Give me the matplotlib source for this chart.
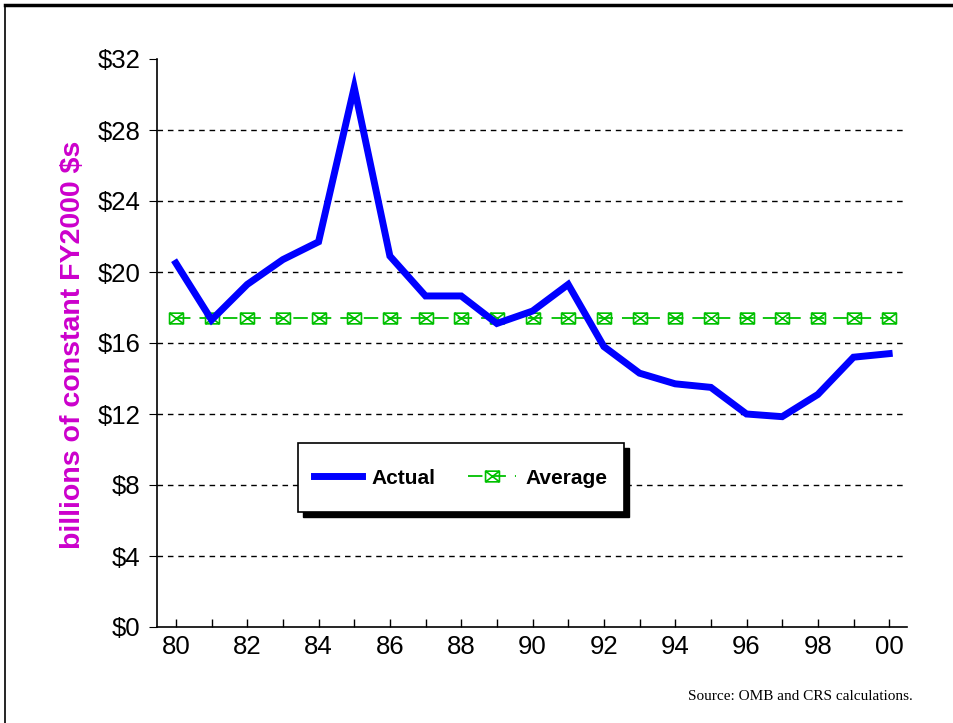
import numpy as np
import matplotlib
matplotlib.use('Agg')
import matplotlib.pyplot as plt
from matplotlib.path import Path
from matplotlib.lines import Line2D
from matplotlib.patches import Rectangle

# data (billions of constant FY2000 $)
years = list(range(80, 101))
actual = [20.5, 17.3, 19.3, 20.7, 21.7, 30.4, 20.9, 18.65, 18.65, 17.1,
          17.8, 19.3, 15.8, 14.3, 13.7, 13.5, 12.0, 11.85, 13.1, 15.2, 15.4]
average = [17.4] * len(years)
yticks = [0, 4, 8, 12, 16, 20, 24, 28, 32]
ytick_labels = ['$0', '$4', '$8', '$12', '$16', '$20', '$24', '$28', '$32']
xtick_pos = list(range(80, 101, 2))
xtick_labels = ['80', '82', '84', '86', '88', '90', '92', '94', '96', '98', '00']

plt.rcParams['font.family'] = ['Liberation Sans', 'DejaVu Sans']

# boxed-x marker
verts = [(-1.3, -1), (1.3, -1), (1.3, 1), (-1.3, 1), (-1.3, -1),
         (-1.3, -1), (1.3, 1), (-1.3, 1), (1.3, -1)]
codes = [Path.MOVETO, Path.LINETO, Path.LINETO, Path.LINETO, Path.CLOSEPOLY,
         Path.MOVETO, Path.LINETO, Path.MOVETO, Path.LINETO]
boxx = Path(verts, codes)

fig = plt.figure(figsize=(9.54, 7.23), dpi=100)
ax = fig.add_axes([157/954, 96/723, 750/954, 568/723])

green = '#00c000'
ax.plot(years, average, color=green, lw=1.3, ls=(0, (8, 5)),
        marker=boxx, ms=10, mfc='none', mec=green, mew=1.2, label='Average', zorder=3)
ax.plot(years, actual, color='#0000ff', lw=5, solid_joinstyle='miter', label='Actual', zorder=4)

ax.set_xlim(79.47, 100.5)
ax.set_ylim(0, 32)
ax.set_yticks(yticks)
ax.set_yticklabels(ytick_labels, fontsize=18.5)
ax.set_xticks(xtick_pos)
ax.set_xticklabels(xtick_labels, fontsize=18.5)
ax.set_xticks(range(81, 100, 2), minor=True)
ax.tick_params(axis='x', which='both', direction='in', length=6, width=1, pad=6)
ax.tick_params(axis='y', direction='out', length=6, width=0.8, pad=6)

for y in yticks[1:-1]:
    ax.axhline(y, color='black', lw=1, ls=(0, (4, 3.5)), zorder=1)

ax.spines['top'].set_visible(False)
ax.spines['right'].set_visible(False)
ax.spines['left'].set_linewidth(1.2)
ax.spines['bottom'].set_linewidth(1.2)

# legend box with a hard black shadow
bx, by, bw, bh = 0.188, 0.2025, 0.4347, 0.1215
ax.add_patch(Rectangle((bx + 0.0067, by - 0.0088), bw, bh, transform=ax.transAxes,
                       facecolor='black', edgecolor='black', zorder=6))
ax.add_patch(Rectangle((bx, by), bw, bh, transform=ax.transAxes,
                       facecolor='white', edgecolor='black', lw=1.2, zorder=6.5))

h, l = ax.get_legend_handles_labels()
leg = ax.legend([h[1], h[0]], [l[1], l[0]], ncol=2, loc='center',
                bbox_to_anchor=(0.405, 0.262), frameon=False,
                prop={'weight': 'bold', 'size': 15},
                handlelength=2.3, handletextpad=0.45,
                columnspacing=1.6, borderpad=0.3)
leg.set_zorder(7)

fig.text(73/954, 1 - 345/723, 'billions of constant FY2000 $s', rotation=90,
         color='#cc00cc', fontsize=20.5, fontweight='bold', ha='center', va='center')
fig.text(913/954, 1 - 697/723, 'Source: OMB and CRS calculations.',
         family=['Liberation Serif', 'DejaVu Serif'], fontsize=11, ha='right', va='center')

# page frame
fig.add_artist(Line2D([5/954, 1], [1 - 5/723, 1 - 5/723], color='black', lw=2.5,
                      transform=fig.transFigure))
fig.add_artist(Line2D([5/954, 5/954], [0, 1 - 5/723], color='black', lw=1.2,
                      transform=fig.transFigure))

plt.savefig('out.png', dpi=100)
